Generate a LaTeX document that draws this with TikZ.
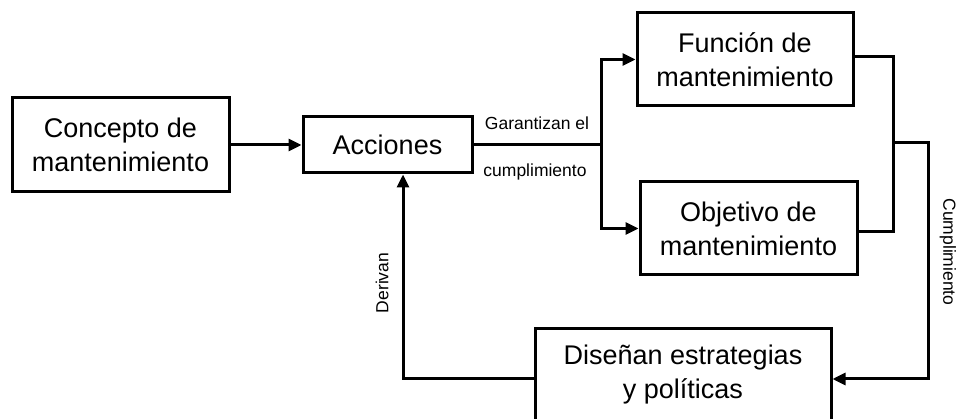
\documentclass[tikz,border=0pt]{standalone}
\usepackage{fontspec}
\setmainfont{Liberation Sans}
\usetikzlibrary{arrows.meta}

\begin{document}
\begin{tikzpicture}[x=1pt,y=-1pt,
  box/.style={draw=black, line width=3pt, fill=white, align=center,
    inner sep=0pt, font=\fontsize{27}{34}\selectfont},
  link/.style={draw=black, line width=3pt},
  arr/.style={link, -{Triangle[length=13pt,width=12pt]}},
  lbl/.style={font=\fontsize{17.5}{20}\selectfont, inner sep=0pt}]

  % canvas
  \useasboundingbox (0,0) rectangle (956,419);

  % boxes
  \node[box, minimum width=217pt, minimum height=94pt] (con) at (120.5,145)
    {Concepto de\\mantenimiento};
  \node[box, minimum width=169pt, minimum height=56pt] (acc) at (387.5,145)
    {Acciones};
  \node[box, minimum width=216pt, minimum height=93pt] (fun) at (745,59.5)
    {Función de\\mantenimiento};
  \node[box, minimum width=217pt, minimum height=93pt] (obj) at (748.5,228.5)
    {Objetivo de\\mantenimiento};
  \node[box, minimum width=296pt, minimum height=92pt] (dis) at (683,375)
    {Diseñan estrategias\\y políticas};

  % junction points
  \coordinate (split) at (601,145);
  \coordinate (join) at (893,143);
  \coordinate (bend) at (928,143);

  % forward flow
  \draw[arr] (con.east) -- (acc.west);
  \draw[link] (acc.east) -- (split);
  \draw[arr] (split) |- (fun.west);
  \draw[arr] (split) |- (obj.west);

  % merge of both results
  \draw[link] ([yshift=3pt]fun.east) -| (join);
  \draw[link] ([yshift=-3pt]obj.east) -| (join);
  \draw[arr] (join) -- (bend) |- ([yshift=-4pt]dis.east);

  % feedback
  \draw[arr] ([yshift=-4pt]dis.west) -| ([xshift=15.5pt]acc.south);

  % labels
  \node[lbl] (l1) at (537,123) {Garantizan el};
  \node[lbl] (l2) at (535,172) {cumplimiento};
  \node[lbl, rotate=90] (l3) at (382,283) {Derivan};
  \node[lbl, rotate=-90] (l4) at (948,252) {Cumplimiento};
\end{tikzpicture}
\end{document}
